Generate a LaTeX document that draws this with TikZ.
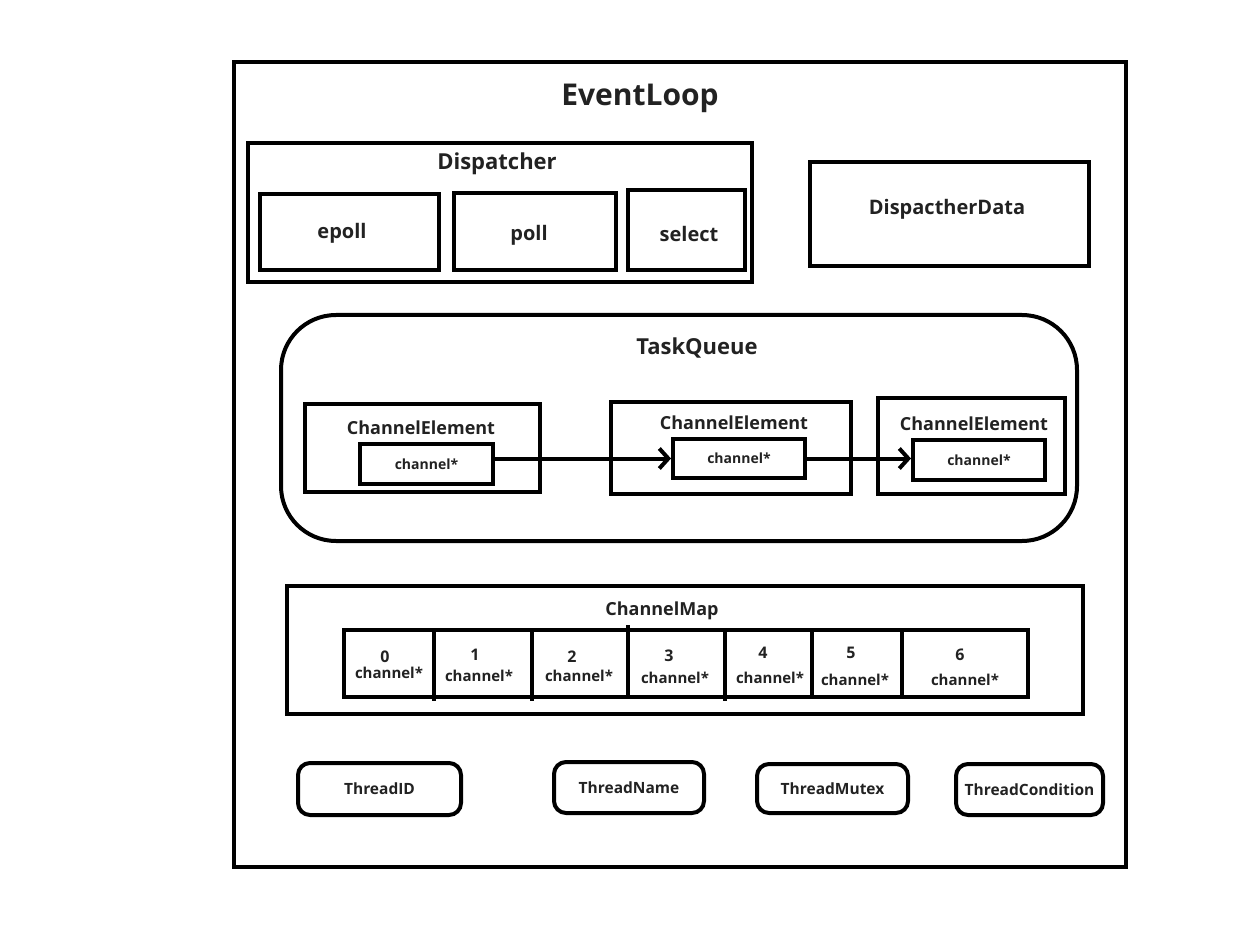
\documentclass[tikz,border=0pt]{standalone}
\usepackage{fontspec}
\setmainfont{Open Sans}
\usetikzlibrary{arrows.meta}
\definecolor{ink}{HTML}{000000}
\definecolor{txt}{HTML}{222222}
\begin{document}
\begin{tikzpicture}[x=1pt,y=-1pt,
  box/.style={draw=ink,line width=4pt,inner sep=0pt},
  lbl/.style={text=txt,font=\bfseries,inner sep=0pt},
  rbox/.style={box,rounded corners=12pt},
  arr/.style={draw=ink,line width=4pt,-{Straight Barb[length=9pt,width=20pt]}}]
\useasboundingbox (0,0) rectangle (1260,949);
% outer
\draw[box] (234,62) rectangle (1126,867);
\node[lbl,font=\bfseries\fontsize{30}{34}\selectfont] (title) at (640,98) {EventLoop};
% dispatcher
\draw[box] (248,143) rectangle (752,282);
\node[lbl,font=\bfseries\fontsize{22}{26}\selectfont] (disp) at (497,164) {Dispatcher};
\draw[box] (260,194) rectangle (439,270);
\node[lbl,font=\bfseries\fontsize{20}{24}\selectfont] (epoll) at (342,233) {epoll};
\draw[box] (454,193) rectangle (616,270);
\node[lbl,font=\bfseries\fontsize{20}{24}\selectfont] (poll) at (529,235) {poll};
\draw[box] (628,190) rectangle (745,270);
\node[lbl,font=\bfseries\fontsize{20}{24}\selectfont] (select) at (689,234) {select};
% dispatcher data
\draw[box] (810,162) rectangle (1089,266);
\node[lbl,font=\bfseries\fontsize{20}{24}\selectfont] (ddata) at (947,209) {DispactherData};
% task queue
\draw[box,rounded corners=55pt] (281,315) rectangle (1077,541);
\node[lbl,font=\bfseries\fontsize{22}{26}\selectfont] (tq) at (697,348) {TaskQueue};
\draw[box] (305,404) rectangle (540,492);
\node[lbl,font=\bfseries\fontsize{18}{22}\selectfont] (ce1) at (421,428) {ChannelElement};
\node[box,minimum width=133pt,minimum height=40pt,font=\bfseries\fontsize{14}{17}\selectfont,text=txt] (c1) at (426.5,464) {channel*};
\draw[box] (611,402) rectangle (851,494);
\node[lbl,font=\bfseries\fontsize{18}{22}\selectfont] (ce2) at (734,423) {ChannelElement};
\node[box,minimum width=132pt,minimum height=39pt,font=\bfseries\fontsize{14}{17}\selectfont,text=txt] (c2) at (739,458.5) {channel*};
\draw[box] (878,398) rectangle (1065,494);
\node[lbl,font=\bfseries\fontsize{18}{22}\selectfont] (ce3) at (974,424) {ChannelElement};
\node[box,minimum width=132pt,minimum height=40pt,font=\bfseries\fontsize{14}{17}\selectfont,text=txt] (c3) at (979,460) {channel*};
\draw[arr] (c1.east |- c2.west) -- (c2.west);
\draw[arr] (c2.east) -- (c3.west |- c2.east);
% channel map
\draw[box] (287,586) rectangle (1083,714);
\node[lbl,font=\bfseries\fontsize{18}{22}\selectfont] (cm) at (662,611) {ChannelMap};
\draw[box] (344,630) rectangle (1028,697);
\foreach \x/\y in {434/701,532/701,725/701}{\draw[draw=ink,line width=4pt] (\x,630) -- (\x,\y);}
\draw[draw=ink,line width=4pt] (628,625) -- (628,697);
\draw[draw=ink,line width=4pt] (812,630) -- (812,697);
\draw[draw=ink,line width=4pt] (902,630) -- (902,697);
\foreach \i/\nx/\ny/\cx/\cy in {0/385/657/389/673,1/475/655/479/676,2/572/657/579/676,3/669/656/675/678,4/763/653/770/678,5/851/653/855/680,6/960/655/965/680}{
  \node[lbl,font=\bfseries\fontsize{16}{19}\selectfont] (n\i) at (\nx,\ny) {\i};
  \node[lbl,font=\bfseries\fontsize{15}{18}\selectfont] (cc\i) at (\cx,\cy) {channel*};
}
% threads
\node[rbox,minimum width=163pt,minimum height=52pt,font=\bfseries\fontsize{15.5}{18}\selectfont,text=txt] (tid) at (379.5,789) {ThreadID};
\node[rbox,minimum width=150pt,minimum height=51pt,font=\bfseries\fontsize{15.5}{18}\selectfont,text=txt] (tname) at (629,787.5) {ThreadName};
\node[rbox,minimum width=151pt,minimum height=49pt,font=\bfseries\fontsize{15.5}{18}\selectfont,text=txt] (tmutex) at (832.5,788.5) {ThreadMutex};
\node[rbox,minimum width=147pt,minimum height=51pt,font=\bfseries\fontsize{15.5}{18}\selectfont,text=txt] (tcond) at (1029.5,789.5) {ThreadCondition};
\end{tikzpicture}
\end{document}
